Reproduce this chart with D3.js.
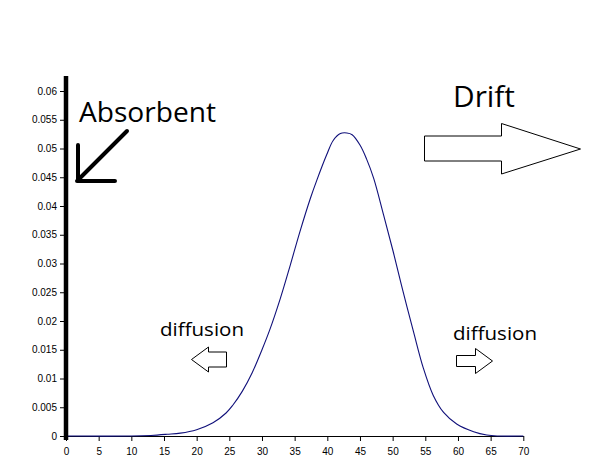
<!DOCTYPE html>
<html>
<head>
<meta charset="utf-8">
<title>Absorbent / Drift / diffusion</title>
<script src="https://cdn.jsdelivr.net/npm/d3@7"></script>
<style>
body { margin: 0; background: #fff; }
svg { display: block; }
.tick text { font: 10px "Liberation Sans", Arial, sans-serif; fill: #000; }
.note { font-family: "Open Sans", "DejaVu Sans", sans-serif; fill: #000; }
.hollow { fill: #fff; stroke: #000; stroke-width: 1; }
</style>
</head>
<body>
<div id="graphe"><svg></svg></div>

<script>
// valeurs
var curveX = [0, 10, 13, 15.5, 17.5, 20, 22.5, 24.5, 25.5, 27, 28.5, 30, 31.2, 32.8, 34.3, 35.8, 37.4, 38.4, 39.9, 40.9, 42, 43, 43.8, 45, 46, 47.1, 48.6, 50.1, 51.6, 53.2, 54.7, 56.2, 57.8, 59.8, 62.4, 64.4, 66, 70];
var curveY = [0, 0, 0.0001, 0.0003, 0.0005, 0.0011, 0.0023, 0.004, 0.0053, 0.0078, 0.011, 0.015, 0.0185, 0.0239, 0.0296, 0.0355, 0.0413, 0.0445, 0.0489, 0.0514, 0.0526, 0.0527, 0.0524, 0.0506, 0.0482, 0.0448, 0.0385, 0.032, 0.0251, 0.0181, 0.0118, 0.0071, 0.0041, 0.0021, 0.00075, 0.00017, 0, 0];
var xTicks = [0, 5, 10, 15, 20, 25, 30, 35, 40, 45, 50, 55, 60, 65, 70];
var yTicks = [0, 0.005, 0.01, 0.015, 0.02, 0.025, 0.03, 0.035, 0.04, 0.045, 0.05, 0.055, 0.06];
var yTickLabels = ["0", "0.005", "0.01", "0.015", "0.02", "0.025", "0.03", "0.035", "0.04", "0.045", "0.05", "0.055", "0.06"];

var svg = d3.select("svg").attr("width", 610).attr("height", 460);
svg.append("rect").attr("width", 610).attr("height", 460).attr("fill", "#fff");

var x = d3.scaleLinear().domain([0, 70]).range([66, 523.3]);
var y = d3.scaleLinear().domain([0, 0.06]).range([436, 91]);

// axe des x
var gx = svg.append("g")
    .attr("transform", "translate(0," + y(0) + ")")
    .call(d3.axisBottom(x).tickValues(xTicks).tickSize(5).tickPadding(7).tickSizeOuter(0));
gx.select(".domain").attr("stroke", "#000");
gx.selectAll(".tick line").attr("stroke", "#000");

// axe des y
var gy = svg.append("g")
    .attr("transform", "translate(" + x(0) + ",0)")
    .call(d3.axisLeft(y).tickValues(yTicks).tickSize(6).tickPadding(3)
      .tickFormat(function(d, i) { return yTickLabels[i]; }));
gy.select(".domain").remove();
gy.selectAll(".tick line").attr("stroke", "#000");

// la courbe
var line = d3.line()
    .x(function(d, i) { return x(curveX[i]); })
    .y(function(d) { return y(Math.max(0, d)); })
    .curve(d3.curveCatmullRom.alpha(0.5));

svg.append("path")
    .datum(curveY)
    .attr("d", line)
    .attr("fill", "none")
    .attr("stroke", "#10107a")
    .attr("stroke-width", 1.1);

// paroi absorbante (trait epais)
svg.append("line")
    .attr("x1", x(0)).attr("x2", x(0))
    .attr("y1", 76).attr("y2", 440)
    .attr("stroke", "#000").attr("stroke-width", 4.5);

// fleche noire "Absorbent"
svg.append("path")
    .attr("d", "M127,131 L78,180 M78,145 L78,181 M77,181 L115,181")
    .attr("fill", "none")
    .attr("stroke", "#000")
    .attr("stroke-width", 4)
    .attr("stroke-linecap", "round");

svg.append("text").attr("class", "note")
    .attr("x", 79).attr("y", 121.5)
    .attr("font-size", 27.5)
    .attr("textLength", 137).attr("lengthAdjust", "spacingAndGlyphs")
    .text("Absorbent");

svg.append("text").attr("class", "note")
    .attr("x", 453).attr("y", 106.5)
    .attr("font-size", 29.5)
    .attr("textLength", 62).attr("lengthAdjust", "spacingAndGlyphs")
    .text("Drift");

// grosse fleche "Drift"
svg.append("polygon").attr("class", "hollow")
    .attr("points", "424.5,136 501.5,136 501.5,123.5 580.5,149 501.5,174 501.5,161 424.5,161");

// petites fleches diffusion
svg.append("text").attr("class", "note")
    .attr("x", 160).attr("y", 336)
    .attr("font-size", 17.5)
    .attr("textLength", 84).attr("lengthAdjust", "spacingAndGlyphs")
    .text("diffusion");

svg.append("polygon").attr("class", "hollow")
    .attr("points", "191.5,359.5 208.5,347 208.5,352 226.5,352 226.5,367 208.5,367 208.5,372");

svg.append("text").attr("class", "note")
    .attr("x", 453).attr("y", 340)
    .attr("font-size", 17.5)
    .attr("textLength", 84).attr("lengthAdjust", "spacingAndGlyphs")
    .text("diffusion");

svg.append("polygon").attr("class", "hollow")
    .attr("points", "456.5,355.5 475.5,355.5 475.5,348.5 492.5,361 475.5,373.5 475.5,366.5 456.5,366.5");
</script>
</body>
</html>
